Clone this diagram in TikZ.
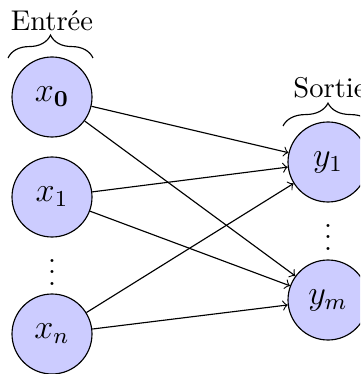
\documentclass[tikz,border=0pt]{standalone}
\usetikzlibrary{positioning, decorations.pathreplacing}

\begin{document}
\begin{tikzpicture}[x=0.35pt, y=-0.35pt, >=to,
neuron/.style={
  circle, draw, fill=blue!20,
  minimum size=28pt, inner sep=0pt
},
accolade/.style={
  decorate, decoration={brace, amplitude=8pt}
}]
\useasboundingbox (0,0) rectangle (360,374);
\clip (0,0) rectangle (360,374);
% couche d'entree
\node (x0) [neuron] at (52,97) {\large $x_{\mathbf{0}}$};
\node (x1) [neuron] at (52,197) {\large $x_1$};
\node (xn) [neuron] at (52,334) {\large $x_n$};
\node (dx) [anchor=base] at (52,285) {$\vdots$};
% couche de sortie
\node (y1) [neuron] at (328,162) {\large $y_1$};
\node (ym) [neuron] at (328,300) {\large $y_m$};
\node (dy) [anchor=base] at (328,250) {$\vdots$};
% accolades
\coordinate (e1) at (8,58);
\coordinate (e2) at (93,58);
\coordinate (s1) at (283,126);
\coordinate (s2) at (373,126);
\draw[accolade] (e1) -- (e2);
\draw[accolade] (s1) -- (s2);
\node (entree) at (52,21) {Entrée};
\node (sortie) at (330,88) {Sortie};
% connexions
\foreach \i in {x0,x1,xn}
  \foreach \j in {y1,ym}
    \draw[->] (\i) -- (\j);
\end{tikzpicture}
\end{document}
